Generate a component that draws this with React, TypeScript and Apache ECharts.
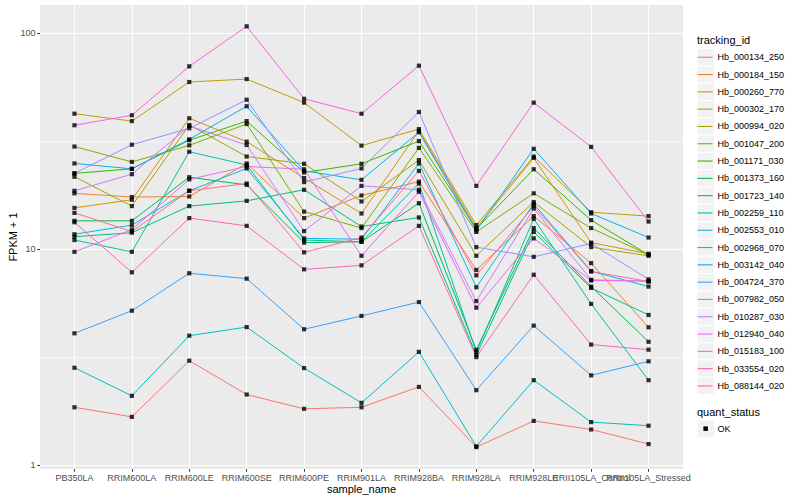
import React, { useEffect, useRef } from "react";
import * as echarts from "echarts";

const categories = [
  "PB350LA", "RRIM600LA", "RRIM600LE", "RRIM600SE", "RRIM600PE", "RRIM901LA",
  "RRIM928BA", "RRIM928LA", "RRIM928LE", "RRII105LA_Control", "RRII105LA_Stressed",
];

const seriesNames = [
  "Hb_000134_250", "Hb_000184_150", "Hb_000260_770", "Hb_000302_170", "Hb_000994_020",
  "Hb_001047_200", "Hb_001171_030", "Hb_001373_160", "Hb_001723_140", "Hb_002259_110",
  "Hb_002553_010", "Hb_002968_070", "Hb_003142_040", "Hb_004724_370", "Hb_007982_050",
  "Hb_010287_030", "Hb_012940_040", "Hb_015183_100", "Hb_033554_020", "Hb_088144_020",
];

// FPKM + 1, one row per tracking_id, one column per sample
const hb_000134_250 = [1.85, 1.67, 3.04, 2.12, 1.82, 1.85, 2.3, 1.21, 1.6, 1.46, 1.25];
const hb_000184_150 = [18.1, 17.4, 17.5, 24.9, 13.9, 17.7, 20.5, 8.0, 14.2, 8.6, 4.34];
const hb_000260_770 = [15.5, 16.9, 40.3, 31.4, 21.3, 14.6, 35.2, 12.5, 26.4, 10.7, 9.5];
const hb_000302_170 = [42.3, 39.1, 59.3, 61.2, 47.6, 30.1, 35.9, 12.9, 26.8, 14.8, 14.2];
const hb_000994_020 = [21.6, 15.8, 37.5, 26.8, 24.8, 16.6, 25.8, 9.3, 16.5, 10.2, 9.3];
const hb_001047_200 = [29.8, 25.3, 30.2, 37.9, 14.9, 12.5, 29.4, 12.0, 18.1, 12.5, 9.4];
const hb_001171_030 = [22.4, 23.5, 31.9, 39.1, 22.6, 24.8, 31.6, 12.4, 23.4, 13.6, 9.4];
const hb_001373_160 = [13.5, 13.5, 21.5, 19.8, 10.7, 10.8, 16.3, 3.41, 12.5, 6.7, 3.72];
const hb_001723_140 = [11.4, 11.9, 15.8, 16.7, 18.8, 12.7, 14.0, 3.23, 12.0, 6.6, 4.95];
const hb_002259_110 = [11.0, 9.7, 28.2, 24.5, 11.0, 10.8, 20.1, 3.33, 13.8, 5.57, 2.47];
const hb_002553_010 = [2.82, 2.09, 3.97, 4.35, 2.81, 1.94, 3.34, 1.22, 2.47, 1.58, 1.52];
const hb_002968_070 = [11.7, 12.9, 18.6, 23.6, 11.2, 11.1, 24.9, 6.65, 16.2, 7.9, 6.7];
const hb_003142_040 = [24.9, 23.5, 32.2, 45.8, 23.0, 20.9, 34.7, 12.2, 29.1, 14.6, 11.3];
const hb_004724_370 = [4.07, 5.18, 7.72, 7.29, 4.25, 4.9, 5.68, 2.22, 4.42, 2.6, 3.02];
const hb_007982_050 = [22.4, 30.4, 36.2, 49.1, 20.4, 23.6, 43.1, 10.2, 9.2, 10.6, 7.24];
const hb_010287_030 = [18.6, 22.2, 37.1, 30.3, 12.1, 19.6, 18.8, 5.74, 15.4, 7.2, 7.1];
const hb_012940_040 = [9.7, 12.3, 21.0, 24.1, 23.4, 9.3, 18.4, 5.35, 11.2, 7.15, 7.1];
const hb_015183_100 = [37.4, 41.6, 70.1, 107.4, 49.6, 42.3, 70.6, 19.6, 47.6, 29.7, 13.4];
const hb_033554_020 = [13.3, 7.8, 13.9, 12.8, 8.05, 8.4, 12.8, 3.16, 7.6, 3.61, 3.42];
const hb_088144_020 = [14.7, 12.05, 18.6, 20.1, 9.65, 11.3, 23.0, 7.55, 15.8, 7.87, 7.07];

const seriesValues = [
  hb_000134_250, hb_000184_150, hb_000260_770, hb_000302_170, hb_000994_020,
  hb_001047_200, hb_001171_030, hb_001373_160, hb_001723_140, hb_002259_110,
  hb_002553_010, hb_002968_070, hb_003142_040, hb_004724_370, hb_007982_050,
  hb_010287_030, hb_012940_040, hb_015183_100, hb_033554_020, hb_088144_020,
];

const statusNames = ["OK"];

// log10 positions of the major and minor breaks, and the axis limits
const yMajorLog = [0, 1, 2];
const yMinorLog = [0.5, 1.5];
const yLimitsLog = [-0.0185, 2.1296];
const xLimits = [-0.6, 10.6];

const palette = [
  "#F8766D", "#EA8331", "#D89000", "#C09B00", "#A3A500", "#7CAE00", "#39B600",
  "#00BB4E", "#00BF7D", "#00C1A3", "#00BFC4", "#00BAE0", "#00B0F6", "#35A2FF",
  "#9590FF", "#C77CFF", "#E76BF3", "#FA62DB", "#FF62BC", "#FF6C90",
];

export default function App() {
  const ref = useRef<HTMLDivElement>(null);

  useEffect(() => {
    if (!ref.current) return;
    document.body.style.margin = "0";
    const chart = echarts.init(ref.current, null, { renderer: "svg" });
    const font = "'Liberation Sans', Arial, Helvetica, sans-serif";
    const catIdx = categories.map((_, i) => i);
    const evenIdx = catIdx.filter((i) => i % 2 === 0);
    const oddIdx = catIdx.filter((i) => i % 2 === 1);

    const legendTop = 48.6;
    const keySize = 17.3;
    const noLine = { show: false, onZero: false };

    const tickLabel = {
      formatter: (v: number) => categories[Math.round(v)] ?? "",
      color: "#4D4D4D",
      fontSize: 9,
      margin: 4.5,
      hideOverlap: false,
      showMinLabel: true,
      showMaxLabel: true,
      fontFamily: font,
    };

    const lineSeries = seriesNames.map((name, s) => ({
      type: "line",
      name,
      xAxisIndex: 0,
      yAxisIndex: 0,
      data: seriesValues[s].map((v, i) => [i, v]),
      showSymbol: false,
      symbol: "none",
      color: palette[s],
      lineStyle: { width: 1, color: palette[s] },
      silent: true,
      z: 3,
    }));

    const pointSeries = {
      type: "scatter",
      name: statusNames[0],
      xAxisIndex: 0,
      yAxisIndex: 0,
      data: seriesValues.flatMap((arr) => arr.map((v, i) => [i, v])),
      symbol: "rect",
      symbolSize: 4.2,
      itemStyle: { color: "#000000" },
      silent: true,
      z: 4,
    };

    const graphics: any[] = [
      {
        type: "text",
        left: 697,
        top: 34.5,
        style: { text: "tracking_id", fontSize: 11, fill: "#000", fontFamily: font },
      },
      ...seriesNames.map((_, i) => ({
        type: "rect",
        z: 1,
        shape: { x: 697, y: legendTop + keySize * i, width: keySize, height: keySize },
        style: { fill: "#F2F2F2", stroke: "#FFFFFF", lineWidth: 1 },
      })),
      {
        type: "text",
        left: 697,
        top: 406.5,
        style: { text: "quant_status", fontSize: 11, fill: "#000", fontFamily: font },
      },
      {
        type: "rect",
        z: 1,
        shape: { x: 697, y: 420, width: keySize, height: keySize },
        style: { fill: "#F2F2F2", stroke: "#FFFFFF", lineWidth: 1 },
      },
      {
        type: "rect",
        z: 2,
        shape: { x: 703.4, y: 426.4, width: 4.5, height: 4.5 },
        style: { fill: "#000000" },
      },
      {
        type: "text",
        x: 717.5,
        y: 428.7,
        style: {
          text: statusNames[0], fontSize: 9, fill: "#000", fontFamily: font,
          verticalAlign: "middle", align: "left",
        },
      },
    ];

    chart.setOption({
      animation: false,
      backgroundColor: "#FFFFFF",
      textStyle: { fontFamily: font },
      grid: {
        left: 40,
        top: 5,
        width: 643,
        height: 464,
        show: true,
        backgroundColor: "#EBEBEB",
        borderWidth: 0,
        containLabel: false,
        outerBoundsMode: "none",
      },
      xAxis: [
        {
          type: "value",
          position: "bottom",
          min: xLimits[0],
          max: xLimits[1],
          axisLine: noLine,
          axisTick: {
            show: true,
            customValues: catIdx,
            length: 2.7,
            lineStyle: { color: "#333333", width: 1 },
          },
          axisLabel: { ...tickLabel, customValues: evenIdx },
          splitLine: { show: true, lineStyle: { color: "#FFFFFF", width: 1.1 } },
          name: "sample_name",
          nameLocation: "middle",
          nameGap: 14,
          nameMoveOverlap: false,
          nameTextStyle: { fontSize: 11, color: "#000", fontFamily: font },
        },
        {
          type: "value",
          position: "bottom",
          min: xLimits[0],
          max: xLimits[1],
          axisLine: noLine,
          axisTick: { show: false, customValues: oddIdx },
          axisLabel: { ...tickLabel, customValues: oddIdx },
          splitLine: { show: false },
        },
      ],
      yAxis: [
        {
          type: "log",
          logBase: 10,
          min: Math.pow(10, yLimitsLog[0]),
          max: Math.pow(10, yLimitsLog[1]),
          show: false,
          axisLine: noLine,
          axisTick: { show: false },
          axisLabel: { show: false },
          splitLine: { show: false },
        },
        {
          type: "value",
          position: "left",
          min: yLimitsLog[0],
          max: yLimitsLog[1],
          axisLine: noLine,
          axisTick: {
            show: true,
            customValues: yMajorLog,
            length: 2.7,
            lineStyle: { color: "#333333", width: 1 },
          },
          axisLabel: {
            customValues: yMajorLog,
            formatter: (v: number) => String(Math.round(Math.pow(10, v))),
            color: "#4D4D4D",
            fontSize: 9,
            margin: 4.5,
            showMinLabel: true,
            showMaxLabel: true,
            fontFamily: font,
          },
          splitLine: { show: true, lineStyle: { color: "#FFFFFF", width: 1.1 } },
          name: "FPKM + 1",
          nameLocation: "middle",
          nameGap: 22,
          nameRotate: 90,
          nameMoveOverlap: false,
          nameTextStyle: { fontSize: 11, color: "#000", fontFamily: font },
        },
        {
          type: "value",
          position: "left",
          min: yLimitsLog[0],
          max: yLimitsLog[1],
          axisLine: noLine,
          axisTick: { show: false, customValues: yMinorLog },
          axisLabel: { show: false, customValues: yMinorLog },
          splitLine: { show: true, lineStyle: { color: "#FFFFFF", width: 0.55 } },
        },
      ],
      legend: {
        data: seriesNames,
        orient: "vertical",
        left: 697.5,
        top: legendTop,
        padding: 0,
        itemWidth: 15,
        itemHeight: 1.1,
        itemGap: 0,
        icon: "rect",
        selectedMode: false,
        textStyle: { fontSize: 9, lineHeight: keySize, color: "#000", fontFamily: font },
      },
      graphic: graphics,
      series: [...lineSeries, pointSeries],
    });

    return () => chart.dispose();
  }, []);

  return <div ref={ref} style={{ width: 800, height: 500 }} />;
}
